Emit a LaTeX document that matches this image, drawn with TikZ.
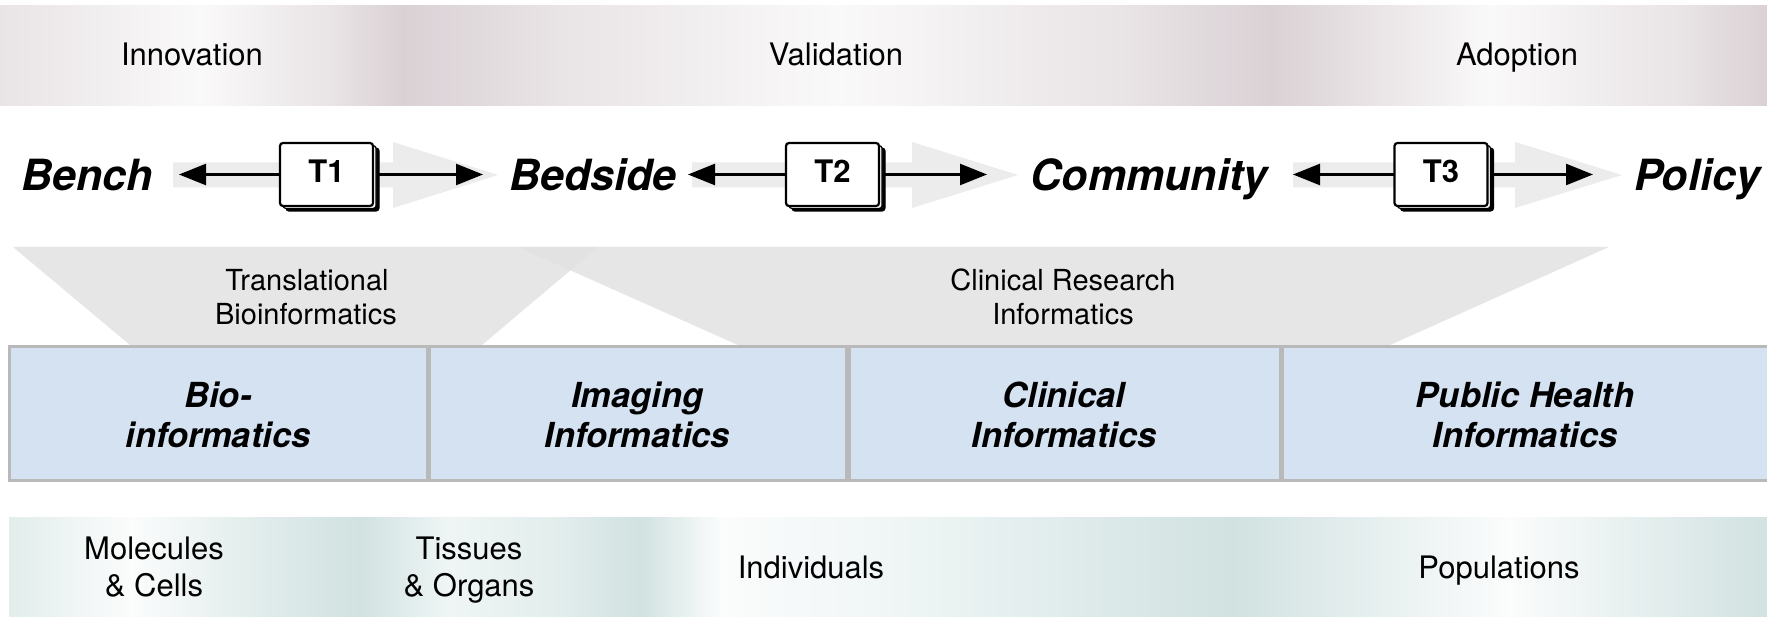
\documentclass[tikz,border=0pt]{standalone}
\usepackage{fontspec}
\setmainfont{TeX Gyre Heros}
\usetikzlibrary{arrows.meta}
\definecolor{topdark}{RGB}{218,209,213}
\definecolor{topmid}{RGB}{233,228,230}
\definecolor{toplight}{RGB}{250,249,249}
\definecolor{botdark}{RGB}{209,226,225}
\definecolor{botmid}{RGB}{226,237,236}
\definecolor{botsoft}{RGB}{239,245,245}
\definecolor{botlight}{RGB}{251,252,252}
\definecolor{trapgray}{RGB}{226,226,226}
\definecolor{arrgray}{RGB}{236,236,236}
\definecolor{boxblue}{RGB}{212,226,242}
\definecolor{boxline}{RGB}{185,185,185}
\newcommand\gpiece[6]{\shade[left color=#5,right color=#6] (#1,#3) rectangle (#2+1,#4);}
\newcommand\grayarrow[3]{\fill[arrgray] (#1,162.5) -- (#2,162.5) -- (#2,142) -- (#3,175) -- (#2,208) -- (#2,187.5) -- (#1,187.5) -- cycle;}
\newcommand\tshadow[2]{%
  \draw[line width=1.2pt,rounded corners=3pt,fill=black] (#1-46.5+6,#2-31.5+5) rectangle (#1+46.5+6,#2+31.5+5);
  \draw[line width=1.2pt,rounded corners=3pt,fill=white] (#1-46.5+3,#2-31.5+2.5) rectangle (#1+46.5+3,#2+31.5+2.5);}
\tikzset{
  toplab/.style={anchor=base,inner sep=0pt,font=\fontsize{31}{31}\selectfont},
  midlab/.style={anchor=base,inner sep=0pt,font=\fontsize{43}{43}\selectfont\bfseries\itshape},
  trlab/.style={anchor=base,inner sep=0pt,font=\fontsize{29}{29}\selectfont},
  boxlab/.style={anchor=base,inner sep=0pt,font=\fontsize{34.5}{34.5}\selectfont\bfseries\itshape},
  botlab/.style={anchor=base,inner sep=0pt,font=\fontsize{31}{31}\selectfont},
  tbox/.style={draw,line width=2.2pt,fill=white,rounded corners=3pt,minimum width=93pt,minimum height=63pt,inner sep=0pt,text depth=7pt,font=\fontsize{31}{31}\selectfont\bfseries},
  infobox/.style={draw=boxline,line width=3pt,fill=boxblue,inner sep=0pt,minimum height=133pt},
  trap/.style={fill=trapgray,fill opacity=0.85},
  blackarr/.style={line width=2.5pt,-{Triangle[length=27pt,width=21pt]}}
}
\begin{document}
\begin{tikzpicture}[x=1pt,y=-1pt]
\useasboundingbox (0,0) rectangle (1767,617);
\fill[white] (0,0) rectangle (1767,617);
% top band
\gpiece{0}{200}{6}{106}{topmid}{toplight}
\gpiece{200}{330}{6}{106}{toplight}{topmid}
\gpiece{330}{402}{6}{106}{topmid}{topdark}
\gpiece{402}{560}{6}{106}{topdark}{topmid}
\gpiece{560}{836}{6}{106}{topmid}{toplight}
\gpiece{836}{1120}{6}{106}{toplight}{topmid}
\gpiece{1120}{1270}{6}{106}{topmid}{topdark}
\gpiece{1270}{1490}{6}{106}{topdark}{toplight}
\gpiece{1490}{1680}{6}{106}{toplight}{topmid}
\gpiece{1680}{1767}{6}{106}{topmid}{topdark}
\node[toplab] (innov) at (192,66) {Innovation};
\node[toplab] (valid) at (836,66) {Validation};
\node[toplab] (adopt) at (1517,66) {Adoption};
% middle row
\grayarrow{173}{393}{498}
\grayarrow{692}{912}{1018}
\grayarrow{1293}{1515}{1622}
\node[midlab] (bench) at (87,191) {Bench};
\node[midlab] (bedside) at (593,191) {Bedside};
\node[midlab] (community) at (1149,191) {Community};
\node[midlab] (policy) at (1697,191) {Policy};
\coordinate (t1l) at (179,174.5);
\coordinate (t1r) at (483,174.5);
\coordinate (t2l) at (688,174.5);
\coordinate (t2r) at (987,174.5);
\coordinate (t3l) at (1293,174.5);
\coordinate (t3r) at (1593,174.5);
\draw[blackarr] (326.5,174.5) -- (t1l);
\draw[blackarr] (326.5,174.5) -- (t1r);
\draw[blackarr] (832.5,174.5) -- (t2l);
\draw[blackarr] (832.5,174.5) -- (t2r);
\draw[blackarr] (1441,174.5) -- (t3l);
\draw[blackarr] (1441,174.5) -- (t3r);
\tshadow{326.5}{174.5}
\tshadow{832.5}{174.5}
\tshadow{1441}{174.5}
\node[tbox] (T1) at (326.5,174.5) {T1};
\node[tbox] (T2) at (832.5,174.5) {T2};
\node[tbox] (T3) at (1441,174.5) {T3};
% trapezoids
\fill[trap] (13,247) -- (598,247) -- (482,345) -- (130,345) -- cycle;
\fill[trap] (518,247) -- (1609,247) -- (1390,345) -- (738,345) -- cycle;
\node[trlab] (tr1) at (307,290.5) {Translational};
\node[trlab] (tr2) at (306,324.5) {Bioinformatics};
\node[trlab] (cr1) at (1063,290.5) {Clinical Research};
\node[trlab] (cr2) at (1063,324.5) {Informatics};
% boxes
\node[infobox,minimum width=418pt] (bio) at (218,413.5) {};
\node[infobox,minimum width=417pt] (img) at (637.5,413.5) {};
\node[infobox,minimum width=431pt] (cli) at (1064.5,413.5) {};
\node[infobox,minimum width=488pt] (pub) at (1526,413.5) {};
\node[boxlab] (bio1) at (218,408) {Bio-};
\node[boxlab] (bio2) at (218,447.5) {informatics};
\node[boxlab] (img1) at (637.5,408) {Imaging};
\node[boxlab] (img2) at (637.5,447.5) {Informatics};
\node[boxlab] (cli1) at (1064,408) {Clinical};
\node[boxlab] (cli2) at (1064,447.5) {Informatics};
\node[boxlab] (pub1) at (1525,408) {Public Health};
\node[boxlab] (pub2) at (1525,447.5) {Informatics};
% bottom band
\gpiece{9}{132}{517}{617}{botmid}{botlight}
\gpiece{132}{250}{517}{617}{botlight}{botmid}
\gpiece{250}{360}{517}{617}{botmid}{botdark}
\gpiece{360}{448}{517}{617}{botdark}{botsoft}
\gpiece{448}{560}{517}{617}{botsoft}{botmid}
\gpiece{560}{640}{517}{617}{botmid}{botdark}
\gpiece{640}{720}{517}{617}{botdark}{botlight}
\gpiece{720}{900}{517}{617}{botlight}{botsoft}
\gpiece{900}{1232}{517}{617}{botsoft}{botdark}
\gpiece{1232}{1508}{517}{617}{botdark}{botlight}
\gpiece{1508}{1767}{517}{617}{botlight}{botdark}
\node[botlab] (mol1) at (154,559) {Molecules};
\node[botlab] (mol2) at (154,596) {\& Cells};
\node[botlab] (tis1) at (469,559) {Tissues};
\node[botlab] (tis2) at (469,596) {\& Organs};
\node[botlab] (indiv) at (811,578) {Individuals};
\node[botlab] (popul) at (1499,578) {Populations};
\end{tikzpicture}
\end{document}
